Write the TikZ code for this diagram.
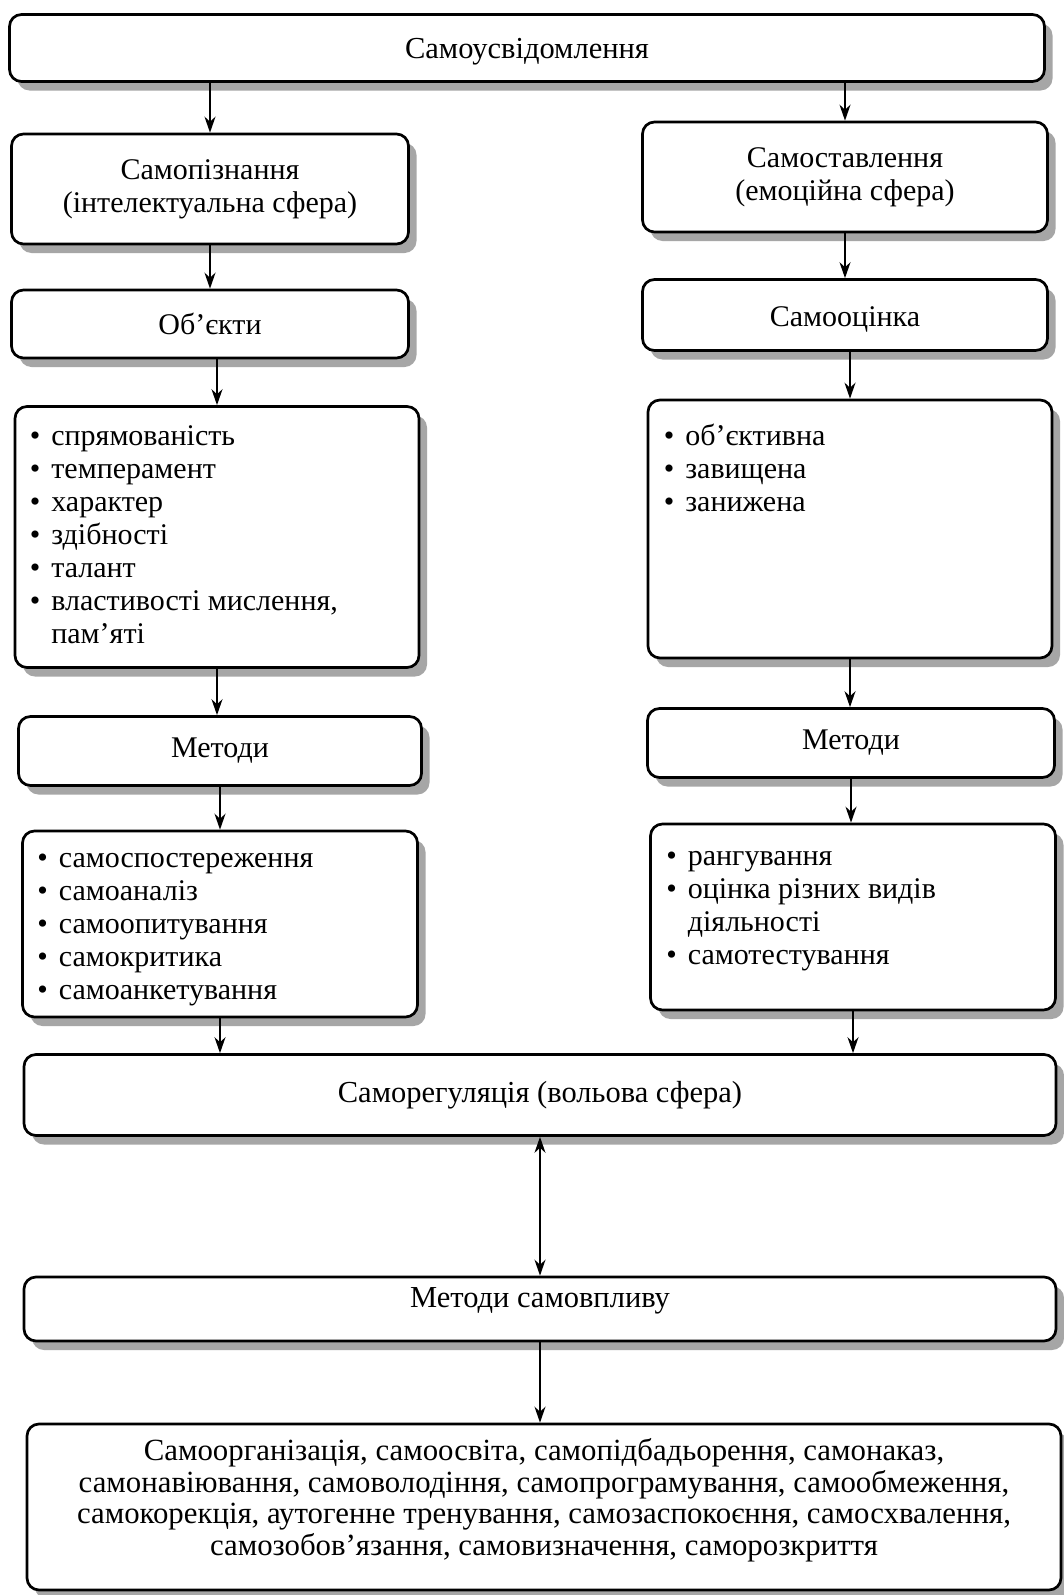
\documentclass[tikz,border=0pt]{standalone}
\usepackage{fontspec}
\setmainfont{Liberation Serif}
\usetikzlibrary{arrows.meta,shadows}
\begin{document}
\begin{tikzpicture}[x=1pt,y=-1pt,
  box/.style={draw, line width=2.7pt, rounded corners=12pt, fill=white,
    drop shadow={shadow xshift=8pt, shadow yshift=-9pt, fill=gray!70, opacity=1},
    inner sep=0pt, align=center, font=\fontsize{30}{33}\selectfont},
  arr/.style={line width=2pt, -{Stealth[length=16pt, width=11pt]}},
  darr/.style={line width=2pt, {Stealth[length=16pt, width=11pt]}-{Stealth[length=16pt, width=11pt]}},
  lst/.style={anchor=north west, inner sep=0pt, align=left, font=\fontsize{30}{33}\selectfont}
]
\useasboundingbox (0,0) rectangle (1064,1595);
\fill[white] (0,0) rectangle (1064,1595);

\node[box, minimum width=1035pt, minimum height=67pt, font=\fontsize{30.5}{33}\selectfont] (top) at (527,48) {\raisebox{-11pt}[0pt][0pt]{Самоусвідомлення}};

\node[box, minimum width=397pt, minimum height=110pt] (sp) at (210,189) {Самопізнання\\(інтелектуальна сфера)};
\node[box, minimum width=405pt, minimum height=110pt] (ss) at (845,177) {Самоставлення\\(емоційна сфера)};

\node[box, minimum width=397pt, minimum height=68pt] (ob) at (210,324) {Об’єкти};
\node[box, minimum width=405pt, minimum height=71pt] (so) at (845,315) {\raisebox{-11pt}[0pt][0pt]{Самооцінка}};

\node[box, minimum width=404pt, minimum height=261pt] (obl) at (217,537) {};
\node[lst] (oblt) at ([shift={(16,17)}]obl.north west) {\begin{tabular}{@{}l@{\hspace{11pt}}l@{}}
•&спрямованість\\
•&темперамент\\
•&характер\\
•&здібності\\
•&талант\\
•&властивості мислення,\\
&пам’яті
\end{tabular}};

\node[box, minimum width=404pt, minimum height=258pt] (sol) at (850,529) {};
\node[lst] (solt) at ([shift={(17,24)}]sol.north west) {\begin{tabular}{@{}l@{\hspace{11pt}}l@{}}
•&об’єктивна\\
•&завищена\\
•&занижена
\end{tabular}};

\node[box, minimum width=403pt, minimum height=69pt] (lm) at (220,751) {Методи};
\node[box, minimum width=407pt, minimum height=69pt] (rm) at (851,743) {Методи};

\node[box, minimum width=395pt, minimum height=186pt] (lml) at (220,924) {};
\node[lst] (lmlt) at ([shift={(16,15)}]lml.north west) {\begin{tabular}{@{}l@{\hspace{11pt}}l@{}}
•&самоспостереження\\
•&самоаналіз\\
•&самоопитування\\
•&самокритика\\
•&самоанкетування
\end{tabular}};

\node[box, minimum width=405pt, minimum height=186pt] (rml) at (853,917) {};
\node[lst] (rmlt) at ([shift={(17,20)}]rml.north west) {\begin{tabular}{@{}l@{\hspace{11pt}}l@{}}
•&рангування\\
•&оцінка різних видів\\
&діяльності\\
•&самотестування
\end{tabular}};

\node[box, minimum width=1032pt, minimum height=81pt, font=\fontsize{30.5}{33}\selectfont] (reg) at (540,1095) {Саморегуляція (вольова сфера)};
\node[box, minimum width=1032pt, minimum height=64pt, font=\fontsize{30.5}{33}\selectfont] (vpl) at (540,1309) {\raisebox{2pt}[0pt][0pt]{Методи самовпливу}};
\node[box, minimum width=1034pt, minimum height=166pt, font=\fontsize{30.8}{31.5}\selectfont] (bot) at (544,1507) {\raisebox{-1pt}[0pt][0pt]{\begin{tabular}{@{}c@{}}Самоорганізація, самоосвіта, самопідбадьорення, самонаказ,\\самонавіювання, самоволодіння, самопрограмування, самообмеження,\\самокорекція, аутогенне тренування, самозаспокоєння, самосхвалення,\\самозобов’язання, самовизначення, саморозкриття\end{tabular}}};

\draw[arr] (top.south -| sp.north) -- (sp.north);
\draw[arr] (top.south -| ss.north) -- (ss.north);
\draw[arr] (sp.south) -- (sp.south |- ob.north);
\draw[arr] (ss.south) -- (ss.south |- so.north);
\draw[arr] (obl.north |- ob.south) -- (obl.north);
\draw[arr] (sol.north |- so.south) -- (sol.north);
\draw[arr] (obl.south) -- (obl.south |- lm.north);
\draw[arr] (sol.south) -- (sol.south |- rm.north);
\draw[arr] (lm.south) -- (lm.south |- lml.north);
\draw[arr] (rm.south) -- (rm.south |- rml.north);
\draw[arr] (lml.south) -- (lml.south |- reg.north);
\draw[arr] (rml.south) -- (rml.south |- reg.north);
\draw[darr] (reg.south) -- (reg.south |- vpl.north);
\draw[arr] (vpl.south) -- (vpl.south |- bot.north);
\end{tikzpicture}
\end{document}
